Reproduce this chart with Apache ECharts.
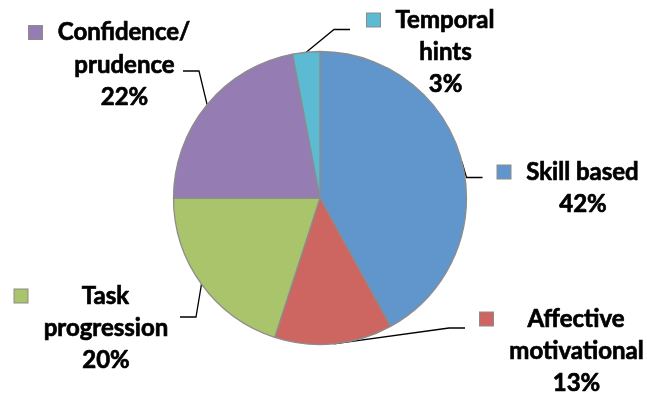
<!DOCTYPE html>
<html><head><meta charset="utf-8">
<script src="https://cdn.jsdelivr.net/npm/echarts@6/dist/echarts.min.js"></script>
<style>html,body{margin:0;padding:0;background:#fff}#c{width:647px;height:394px}</style>
</head><body><div id="c"></div>
<script>
// ---- data ----
const categories = ['Skill based', 'Affective\nmotivational', 'Task\nprogression', 'Confidence/\nprudence', 'Temporal\nhints'];
const values = [42, 13, 20, 22, 3];
const colors = ['#6096CB', '#CD6660', '#A9C46A', '#957CB3', '#5CBAD3'];

// ---- layout (positions only) ----
const CX = 320, CY = 198, R = 146.5;
const labelAnchors = [[583, 172], [576.5, 319], [106, 296], [124.5, 32.5], [445.5, 20]]; // text centre x, first-line middle y
const leaderEnds = [[-100.5, 5.5], [-111.5, 9], [74, 21], [58.5, 38.5], [-95.5, 9.5]];     // offset from anchor
const FONT_SIZE = 24, LINE_H = 32.3, SIDE = 29, FONT = 'Lato';

const ctx = document.createElement('canvas').getContext('2d');
ctx.font = 'bold ' + FONT_SIZE + 'px ' + FONT;
const total = values.reduce((a, b) => a + b, 0);
function pctText(v) { return Math.round(v / total * 100) + '%'; }
const widths = values.map((v, i) => {
  const lines = categories[i].split('\n').concat([pctText(v)]);
  return Math.ceil(Math.max(...lines.map(l => ctx.measureText(l).width))) + 2 * SIDE;
});

const rich = {
  t: { fontSize: FONT_SIZE, fontWeight: 'bold', fontFamily: FONT, color: '#000', lineHeight: LINE_H, align: 'center',
       textBorderColor: '#000', textBorderWidth: 0.7 },
  gap: { width: 15, align: 'left', lineHeight: LINE_H },
  gl: { width: SIDE, align: 'left', lineHeight: LINE_H },
  gr: { width: SIDE, align: 'right', lineHeight: LINE_H }
};
colors.forEach((c, i) => {
  rich['sq' + i] = { width: 13, height: 13, backgroundColor: c, borderColor: '#8c8c8c', borderWidth: 1, align: 'left', lineHeight: LINE_H };
});

// edge points at slice mid-angles
const midPoints = [];
let cum = 0;
values.forEach(v => {
  const th = (cum + v / 2) / total * Math.PI * 2;
  midPoints.push([CX + R * Math.sin(th), CY - R * Math.cos(th)]);
  cum += v;
});

const chart = echarts.init(document.getElementById('c'), null, { renderer: 'canvas' });
chart.setOption({
  animation: false,
  backgroundColor: '#fff',
  series: [{
    type: 'pie',
    center: [CX, CY],
    radius: R,
    startAngle: 90,
    clockwise: true,
    avoidLabelOverlap: false,
    itemStyle: { borderColor: '#8c8c8c', borderWidth: 1.3 },
    emphasis: { disabled: true },
    label: {
      show: true,
      position: 'outside',
      overflow: 'none',
      fontSize: FONT_SIZE, fontWeight: 'bold', fontFamily: FONT, color: '#000',
      lineHeight: LINE_H,
      formatter: p => {
        const lines = p.name.split('\n');
        lines.push(Math.round(p.percent) + '%');
        return lines.map((l, k) => (k === 0 ? '{sq' + p.dataIndex + '| }{gap| }' : '{gl| }') + '{t|' + l + '}{gr| }').join('\n');
      },
      rich: rich
    },
    labelLine: { show: true, smooth: false, lineStyle: { color: '#000', width: 1.3 } },
    labelLayout: function (params) {
      const i = params.dataIndex;
      const a = labelAnchors[i];
      const end = [a[0] + leaderEnds[i][0], a[1] + leaderEnds[i][1]];
      const elbow = [end[0] + (end[0] < a[0] ? -16 : 16), end[1]];
      return {
        x: a[0], y: a[1] - LINE_H / 2,
        align: 'center', verticalAlign: 'top',
        labelLinePoints: [midPoints[i], elbow, end]
      };
    },
    data: values.map((v, i) => ({
      name: categories[i], value: v,
      itemStyle: { color: colors[i] },
      label: { width: widths[i] }
    }))
  }]
});
</script>
</body></html>
